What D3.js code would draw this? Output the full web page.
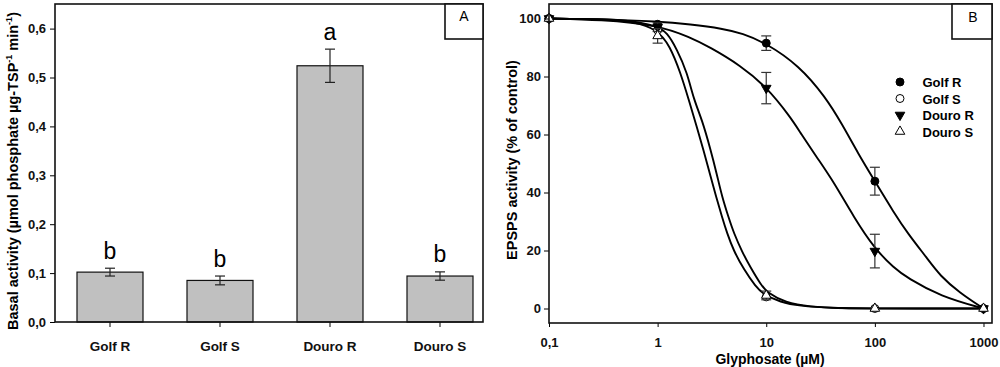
<!DOCTYPE html>
<html>
<head>
<meta charset="utf-8">
<script src="https://cdn.jsdelivr.net/npm/d3@7"></script>
<style>
  body { margin: 0; background: #fff; }
  svg { display: block; font-family: "Liberation Sans", Arial, sans-serif; }
</style>
</head>
<body>
<svg id="chart" width="1000" height="367"></svg>
<script>
// ---- panel A data ----
const categories = ["Golf R", "Golf S", "Douro R", "Douro S"];
const basalMean = [0.102, 0.085, 0.524, 0.094];
const basalErr = [0.008, 0.009, 0.034, 0.0085];
const groupLetters = ["b", "b", "a", "b"];
const yTicksA = [0, 0.1, 0.2, 0.3, 0.4, 0.5, 0.6];

// ---- panel B data ----
const doses = [0.1, 1, 10, 100, 1000];
const golfR = [100, 98, 91.5, 43.9, 0];
const golfRErr = [0.5, 1, 2.5, 4.8, 0.5];
const golfS = [100, 96, 4, 0, 0];
const golfSErr = [0.5, 1, 1, 0.5, 0.5];
const douroR = [100, 97, 76, 19.8, 0];
const douroRErr = [0.5, 1.5, 5.4, 5.8, 0.5];
const douroS = [100, 94, 4.5, 0, 0];
const douroSErr = [1, 2.5, 1.5, 0.5, 0.5];
const xTicksB = [0.1, 1, 10, 100, 1000];
const yTicksB = [0, 20, 40, 60, 80, 100];

// fitted curves: [dose, % activity]
const golfRFit = [[0.1, 100], [0.3, 99.8], [1, 99], [2, 98], [4, 96.5], [6, 94.9], [10, 91.5], [20, 83.8],
  [35, 73], [50, 63.5], [70, 53.5], [100, 43.9], [150, 33], [200, 26], [300, 17.5], [400, 11.2], [600, 5.5], [1000, 0]];
const douroRFit = [[0.1, 100], [0.3, 99.6], [1, 97.8], [2, 93.5], [3, 90.2], [5.8, 83.8], [10, 76.5], [16.7, 66],
  [20.7, 60.5], [30, 51.5], [42, 43.5], [64, 31.5], [100, 20.5], [150, 14], [200, 10.5], [400, 4.2], [1000, 0]];
const douroSFit = [[0.1, 100], [0.3, 99.8], [0.6, 99], [1, 96.2], [1.3, 90.5], [1.62, 81.4], [1.93, 72.1], [2.3, 62.5],
  [2.65, 54.5], [3, 47], [3.4, 39.5], [3.92, 31.5], [4.36, 26], [5, 20], [6.21, 13.5], [8, 7.5], [9.48, 4.8],
  [13.5, 2.2], [20, 0.9], [40, 0.2], [100, 0], [1000, 0]];
const golfSFit = [[0.1, 100], [0.3, 99.8], [0.6, 99.2], [1, 97.2], [1.22, 95.2], [1.5, 89.5], [1.87, 81.4], [2.15, 72.1],
  [2.57, 65], [3.06, 55], [3.5, 46.5], [3.92, 38.5], [4.51, 31.3], [5.02, 26.1], [6, 19.5], [7.15, 14.2], [9, 8],
  [10.2, 5.5], [15, 2], [25, 0.6], [50, 0.1], [100, 0], [1000, 0]];

const svg = d3.select("#chart");
const FONT = "Liberation Sans, Arial, sans-serif";

// ================= panel A =================
const A = {left: 55, right: 483, top: 4, bottom: 322};

const xA = d3.scaleBand().domain(categories).range([A.left, A.left + 440]).paddingInner(0.4).paddingOuter(0.2);
const yA = d3.scaleLinear().domain([0, 0.6]).range([A.bottom, A.bottom - 0.6 * 489]);

const gA = svg.append("g");

// bars
gA.selectAll("rect.bar")
  .data(categories)
  .join("rect")
  .attr("class", "bar")
  .attr("x", d => xA(d))
  .attr("width", xA.bandwidth())
  .attr("y", (d, i) => yA(basalMean[i]))
  .attr("height", (d, i) => yA(0) - yA(basalMean[i]))
  .attr("fill", "#c0c0c0")
  .attr("stroke", "#111")
  .attr("stroke-width", 1.2);

// error bars + letters
categories.forEach((c, i) => {
  const cx = xA(c) + xA.bandwidth() / 2;
  const y1 = yA(basalMean[i] + basalErr[i]), y2 = yA(basalMean[i] - basalErr[i]);
  const g = gA.append("g").attr("stroke", "#222").attr("stroke-width", 1.2);
  g.append("line").attr("x1", cx).attr("x2", cx).attr("y1", y1).attr("y2", y2);
  g.append("line").attr("x1", cx - 5).attr("x2", cx + 5).attr("y1", y1).attr("y2", y1);
  g.append("line").attr("x1", cx - 5).attr("x2", cx + 5).attr("y1", y2).attr("y2", y2);
  gA.append("text")
    .attr("x", cx)
    .attr("y", y1 - 9.5)
    .attr("text-anchor", "middle")
    .attr("font-size", 23)
    .text(groupLetters[i]);
});

// axes A
const yAxisA = d3.axisLeft(yA).tickValues(yTicksA).tickSize(5).tickPadding(4)
  .tickFormat(d => d3.format(".1f")(d).replace(".", ","));
gA.append("g").attr("transform", `translate(${A.left},0)`).call(yAxisA)
  .call(g => g.select(".domain").remove())
  .call(g => g.selectAll("text").attr("font-size", 13).attr("font-weight", "bold").attr("fill", "#111")
    .attr("font-family", FONT));

const xAxisA = d3.axisBottom(xA).tickSize(5).tickPadding(14);
gA.append("g").attr("transform", `translate(0,${A.bottom})`).call(xAxisA)
  .call(g => g.select(".domain").remove())
  .call(g => g.selectAll("text").attr("font-size", 13.5).attr("font-weight", "bold").attr("fill", "#111")
    .attr("font-family", FONT));

// frame A
gA.append("rect")
  .attr("x", A.left).attr("y", A.top)
  .attr("width", A.right - A.left).attr("height", A.bottom - A.top)
  .attr("fill", "none").attr("stroke", "#111").attr("stroke-width", 1.6);

// y title A
const titleA = gA.append("text")
  .attr("transform", `translate(18, ${171}) rotate(-90)`)
  .attr("text-anchor", "middle")
  .attr("font-size", 14.5)
  .attr("font-weight", "bold");
titleA.append("tspan").text("Basal activity (µmol phosphate µg-TSP");
titleA.append("tspan").attr("font-size", 9).attr("dy", -6).text("-1");
titleA.append("tspan").attr("dy", 6).text(" min");
titleA.append("tspan").attr("font-size", 9).attr("dy", -6).text("-1");
titleA.append("tspan").attr("dy", 6).text(")");

// label box A
gA.append("rect").attr("x", 445).attr("y", A.top).attr("width", A.right - 445).attr("height", 35)
  .attr("fill", "#fff").attr("stroke", "#111").attr("stroke-width", 1.6);
gA.append("text").attr("x", 464).attr("y", 21).attr("text-anchor", "middle").attr("font-size", 14).text("A");

// ================= panel B =================
const B = {left: 549, right: 992, top: 4, bottom: 323};

const xB = d3.scaleLog().domain([0.1, 1000 * Math.pow(10, 8.5 / 108.5)]).range([B.left, B.right]);
const yB = d3.scaleLinear().domain([-5, 105]).range([B.bottom, B.top]);

const gB = svg.append("g");

const line = d3.line().x(d => xB(d[0])).y(d => yB(d[1])).curve(d3.curveBasis);
[golfRFit, douroRFit, golfSFit, douroSFit].forEach(fit => {
  gB.append("path").attr("d", line(fit)).attr("fill", "none").attr("stroke", "#000").attr("stroke-width", 1.9);
});

const series = [
  {name: "Golf R", vals: golfR, err: golfRErr, shape: d3.symbolCircle, fill: "#000"},
  {name: "Golf S", vals: golfS, err: golfSErr, shape: d3.symbolCircle, fill: "#fff"},
  {name: "Douro R", vals: douroR, err: douroRErr, shape: d3.symbolTriangle, fill: "#000", flip: true},
  {name: "Douro S", vals: douroS, err: douroSErr, shape: d3.symbolTriangle, fill: "#fff"}
];
const symbolPath = s => d3.symbol().type(s.shape).size(s.shape === d3.symbolCircle ? 50 : 40)();

series.forEach(s => {
  const g = gB.append("g");
  doses.forEach((dose, i) => {
    const cx = xB(dose), y1 = yB(s.vals[i] + s.err[i]), y2 = yB(s.vals[i] - s.err[i]);
    if (s.err[i] > 1) {
      const eb = g.append("g").attr("stroke", "#333").attr("stroke-width", 1.2);
      eb.append("line").attr("x1", cx).attr("x2", cx).attr("y1", y1).attr("y2", y2);
      eb.append("line").attr("x1", cx - 5).attr("x2", cx + 5).attr("y1", y1).attr("y2", y1);
      eb.append("line").attr("x1", cx - 5).attr("x2", cx + 5).attr("y1", y2).attr("y2", y2);
    }
  });
  g.selectAll("path.pt")
    .data(doses)
    .join("path")
    .attr("class", "pt")
    .attr("d", symbolPath(s))
    .attr("transform", (d, i) => `translate(${xB(d)},${yB(s.vals[i])})${s.flip ? " rotate(180)" : ""}`)
    .attr("fill", s.fill)
    .attr("stroke", "#000")
    .attr("stroke-width", 1);
});

// axes B
const xAxisB = d3.axisBottom(xB).tickValues(xTicksB).tickSize(4).tickPadding(11)
  .tickFormat(d => String(d).replace(".", ","));
gB.append("g").attr("transform", `translate(0,${B.bottom})`).call(xAxisB)
  .call(g => g.select(".domain").remove())
  .call(g => g.selectAll("text").attr("font-size", 13).attr("font-weight", "bold").attr("fill", "#111")
    .attr("font-family", FONT));

const yAxisB = d3.axisLeft(yB).tickValues(yTicksB).tickSize(5).tickPadding(3);
gB.append("g").attr("transform", `translate(${B.left},0)`).call(yAxisB)
  .call(g => g.select(".domain").remove())
  .call(g => g.selectAll("text").attr("font-size", 13).attr("font-weight", "bold").attr("fill", "#111")
    .attr("font-family", FONT));

gB.append("rect")
  .attr("x", B.left).attr("y", B.top)
  .attr("width", B.right - B.left).attr("height", B.bottom - B.top)
  .attr("fill", "none").attr("stroke", "#111").attr("stroke-width", 1.6);

gB.append("text")
  .attr("x", 770).attr("y", 363.5)
  .attr("text-anchor", "middle")
  .attr("font-size", 14).attr("font-weight", "bold")
  .text("Glyphosate (µM)");

gB.append("text")
  .attr("transform", `translate(517, 160) rotate(-90)`)
  .attr("text-anchor", "middle")
  .attr("font-size", 14.5).attr("font-weight", "bold")
  .text("EPSPS activity (% of control)");

// legend B
const legend = gB.append("g").attr("transform", "translate(900, 82)");
legend.selectAll("path")
  .data(series)
  .join("path")
  .attr("d", d => symbolPath(d))
  .attr("transform", (d, i) => `translate(0,${i * 16.5})${d.flip ? " rotate(180)" : ""}`)
  .attr("fill", d => d.fill)
  .attr("stroke", "#000");
legend.selectAll("text")
  .data(series)
  .join("text")
  .attr("x", 22.5)
  .attr("y", (d, i) => i * 16.5 + 5)
  .attr("font-size", 13).attr("font-weight", "bold")
  .text(d => d.name);

// label box B
gB.append("rect").attr("x", 952).attr("y", B.top).attr("width", B.right - 952).attr("height", 35)
  .attr("fill", "#fff").attr("stroke", "#111").attr("stroke-width", 1.6);
gB.append("text").attr("x", 973).attr("y", 22).attr("text-anchor", "middle").attr("font-size", 14).text("B");
</script>
</body>
</html>
